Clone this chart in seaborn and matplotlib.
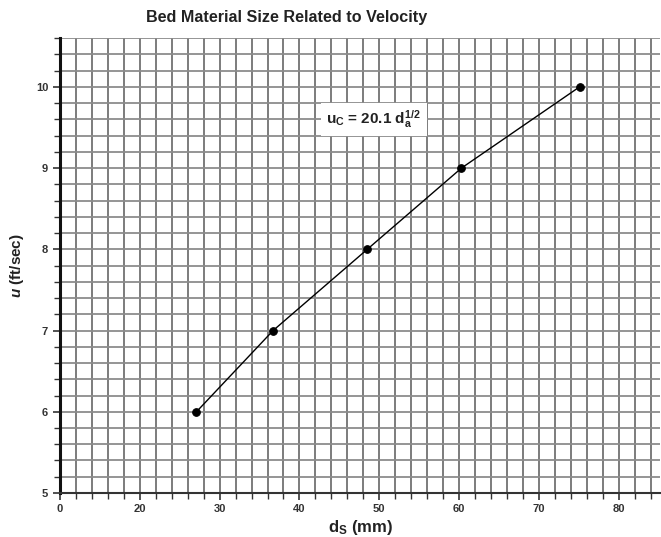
import matplotlib
matplotlib.use("Agg")
import matplotlib.pyplot as plt
import seaborn as sns
import numpy as np
import pandas as pd
from matplotlib.ticker import MultipleLocator

# Critical velocity vs. bed material size, u_c = 20.1 * d^(1/2)
size_mm = [27.1, 36.7, 48.5, 60.3, 75.1]
velocity = [6, 7, 8, 9, 10]

x_ticks = [10, 20, 30, 40, 50, 60, 70, 80]
x_tick_labels = ["0", "20", "30", "40", "50", "60", "70", "80"]
y_ticks = [5, 6, 7, 8, 9, 10]

df = pd.DataFrame({"d_s": size_mm, "u": velocity})

sns.set_theme(style="white")
plt.rcParams["font.family"] = ["Liberation Sans", "DejaVu Sans"]
plt.rcParams["mathtext.fontset"] = "custom"
plt.rcParams["mathtext.rm"] = "Liberation Sans"
plt.rcParams["mathtext.bf"] = "Liberation Sans:bold"
plt.rcParams["mathtext.it"] = "Liberation Sans:italic:bold"

fig = plt.figure(figsize=(6.61, 5.37), dpi=100)
ax = fig.add_axes([0.0908, 0.082, 0.908, 0.847])

# graph-paper grid
ax.set_xlim(10, 85.2)
ax.set_ylim(5, 10.6)
for gx in np.arange(10, 86, 2):
    ax.axvline(gx, color="#7c7c7c", lw=1.4, zorder=0)
for gy in np.arange(5, 10.61, 0.2):
    ax.axhline(gy, color="#8c8c8c", lw=1.3, zorder=0)

sns.lineplot(data=df, x="d_s", y="u", ax=ax, color="black", lw=1.0,
             marker="o", markersize=5.5, markeredgecolor="black",
             markerfacecolor="black", zorder=3)

ax.text(49.3, 9.6, r"$\mathbf{u_C}$ = 20.1 $\mathbf{d_a^{1/2}}$", fontsize=11,
        fontweight="bold", ha="center", va="center", color="#222222",
        bbox=dict(facecolor="white", edgecolor="none", pad=4), zorder=4)

ax.set_xticks(x_ticks)
ax.set_xticklabels(x_tick_labels)
ax.set_yticks(y_ticks)
ax.xaxis.set_minor_locator(MultipleLocator(2))
ax.yaxis.set_minor_locator(MultipleLocator(0.2))
ax.tick_params(axis="both", which="both", labelsize=8, colors="#333333",
               direction="out", bottom=True, left=True)
ax.tick_params(axis="both", which="major", length=5, width=1.2)
ax.tick_params(axis="both", which="minor", length=4, width=1.0)
ax.tick_params(axis="x", which="major", pad=3)
for lab in ax.get_xticklabels() + ax.get_yticklabels():
    lab.set_fontweight("bold")

for side in ["top", "right"]:
    ax.spines[side].set_visible(False)
ax.spines["left"].set_linewidth(2.2)
ax.spines["left"].set_color("#111111")
ax.spines["bottom"].set_linewidth(1.5)
ax.spines["bottom"].set_color("#333333")

ax.set_xlabel(r"$\mathbf{d_S}$ (mm)", fontsize=12, fontweight="bold",
              color="#222222", labelpad=3)
ax.set_ylabel(r"$\mathit{u}$ (ft/sec)", fontsize=11, fontweight="bold",
              color="#222222", labelpad=7)
fig.text(0.434, 0.967, "Bed Material Size Related to Velocity", fontsize=11.6,
         fontweight="bold", ha="center", va="center", color="#222222")

fig.savefig("out.png", dpi=100, facecolor="white")
